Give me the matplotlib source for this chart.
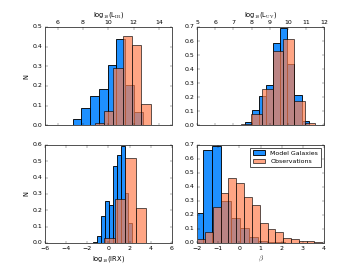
import numpy as np
import matplotlib
matplotlib.use("Agg")
import matplotlib.pyplot as plt

plt.style.use('classic')
plt.rcParams['font.family'] = ['DejaVu Sans']

# ---- data: bin edges and normalised heights ----
# log10(L_IR)
lir_model_edges = [5.8, 6.49, 7.18, 7.87, 8.56, 9.25, 9.94, 10.63, 11.32, 12.01, 12.7]
lir_model_vals = [0.003, 0.0, 0.029, 0.085, 0.148, 0.182, 0.306, 0.437, 0.203, 0.065]
lir_obs_edges = [8.94, 9.67, 10.4, 11.13, 11.86, 12.6, 13.34, 14.07]
lir_obs_vals = [0.012, 0.071, 0.293, 0.452, 0.407, 0.107, 0.003]

# log10(L_UV)
luv_model_edges = [7.25, 7.64, 8.03, 8.42, 8.81, 9.2, 9.59, 9.98, 10.37, 10.76, 11.15]
luv_model_vals = [0.003, 0.02, 0.105, 0.21, 0.29, 0.583, 0.692, 0.436, 0.214, 0.03]
luv_obs_edges = [7.4, 7.99, 8.58, 9.17, 9.76, 10.35, 10.94, 11.53]
luv_obs_vals = [0.005, 0.083, 0.257, 0.526, 0.614, 0.169, 0.014]

# log10(IRX)
irx_model_edges = [-1.43, -1.06, -0.69, -0.32, 0.05, 0.42, 0.79, 1.16, 1.53, 1.9, 2.27]
irx_model_vals = [0.008, 0.045, 0.165, 0.257, 0.233, 0.471, 0.535, 0.594, 0.304, 0.12]
irx_obs_edges = [-0.39, 0.6, 1.59, 2.58, 3.57, 4.56]
irx_obs_vals = [0.029, 0.267, 0.518, 0.216, 0.003]

# beta
beta_model_edges = [-2.14, -1.71, -1.28, -0.85, -0.42, 0.01, 0.44, 0.87, 1.3, 1.73, 2.16]
beta_model_vals = [0.214, 0.66, 0.69, 0.3, 0.18, 0.105, 0.045, 0.015, 0.01, 0.005]
beta_obs_edges = [-2.0, -1.63, -1.26, -0.89, -0.52, -0.15, 0.22, 0.59, 0.96,
                  1.33, 1.7, 2.07, 2.44, 2.81, 3.18, 3.55, 3.92]
beta_obs_vals = [0.03, 0.08, 0.26, 0.355, 0.462, 0.43, 0.33, 0.27, 0.146,
                 0.098, 0.081, 0.038, 0.026, 0.017, 0.017, 0.01]

labels = ['Model Galaxies', 'Observations']
model_color = '#1E90FF'
obs_color = 'coral'

panels = [
    dict(me=lir_model_edges, mv=lir_model_vals, oe=lir_obs_edges, ov=lir_obs_vals,
         xlim=(5, 15), ylim=(0, 0.5), xlabel=r'log$_{10}$(L$_{\rm IR}$)', top=True,
         xticks=[6, 8, 10, 12, 14], yticks=np.arange(0, 0.51, 0.1), ylabel='N'),
    dict(me=luv_model_edges, mv=luv_model_vals, oe=luv_obs_edges, ov=luv_obs_vals,
         xlim=(5, 12), ylim=(0, 0.7), xlabel=r'log$_{10}$(L$_{\rm UV}$)', top=True,
         xticks=list(range(5, 13)), yticks=np.arange(0, 0.71, 0.1), ylabel=None),
    dict(me=irx_model_edges, mv=irx_model_vals, oe=irx_obs_edges, ov=irx_obs_vals,
         xlim=(-6, 6), ylim=(0, 0.6), xlabel=r'log$_{10}$(IRX)', top=False,
         xticks=[-6, -4, -2, 0, 2, 4, 6], yticks=np.arange(0, 0.61, 0.1), ylabel='N'),
    dict(me=beta_model_edges, mv=beta_model_vals, oe=beta_obs_edges, ov=beta_obs_vals,
         xlim=(-2, 4), ylim=(0, 0.7), xlabel=r'$\beta$', top=False,
         xticks=[-2, -1, 0, 1, 2, 3, 4], yticks=np.arange(0, 0.71, 0.1), ylabel=None),
]

fig, axes = plt.subplots(2, 2, figsize=(8, 6), dpi=45, facecolor='white')
for ax, p in zip(axes.flat, panels):
    me = np.array(p['me'])
    oe = np.array(p['oe'])
    ax.bar(me[:-1], p['mv'], width=np.diff(me), align='edge', color=model_color,
           edgecolor='black', linewidth=1.4, label=labels[0])
    ax.bar(oe[:-1], p['ov'], width=np.diff(oe), align='edge', color=obs_color,
           edgecolor='black', linewidth=1.4, alpha=0.7, label=labels[1])
    ax.set_xlim(*p['xlim'])
    ax.set_ylim(*p['ylim'])
    ax.set_xticks(p['xticks'])
    ax.set_yticks(p['yticks'])
    ax.tick_params(labelsize=10)
    for s in ax.spines.values():
        s.set_edgecolor('#555555')
        s.set_linewidth(1.6)
    if p['top']:
        ax.tick_params(labeltop=True, labelbottom=False)
        ax.xaxis.set_label_position('top')
    ax.set_xlabel(p['xlabel'], fontsize=10.5)
    if p['ylabel']:
        ax.set_ylabel(p['ylabel'], fontsize=10.5)

leg = axes[1, 1].legend(loc='upper right', fontsize=10)
leg.get_frame().set_edgecolor('#555555')
leg.get_frame().set_linewidth(1.6)

fig.savefig('out.png', dpi=45, facecolor='white')
